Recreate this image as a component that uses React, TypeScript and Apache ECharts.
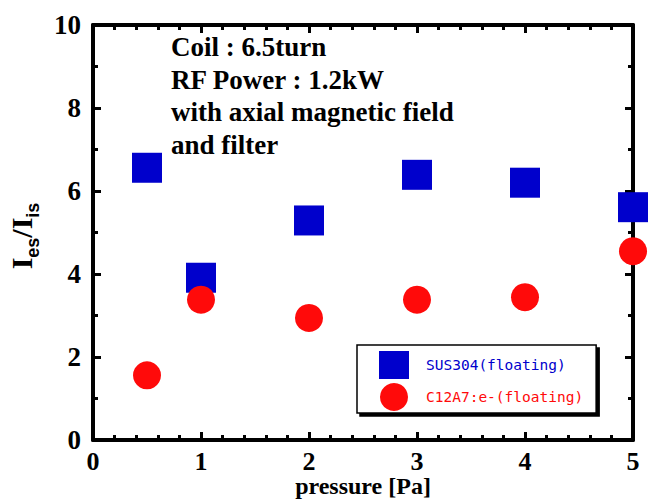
import React, { useEffect, useRef } from "react";
import * as echarts from "echarts";

const pressure = [0.5, 1, 2, 3, 4, 5];
const sus304 = [6.56, 3.91, 5.29, 6.39, 6.2, 5.61];
const c12a7 = [1.56, 3.38, 2.94, 3.38, 3.44, 4.55];
const seriesNames = ["SUS304(floating)", "C12A7:e-(floating)"];
const noteLines = ["Coil : 6.5turn", "RF Power : 1.2kW", "with axial magnetic field", "and filter"];

const BLUE = "#0000cc";
const RED = "#ff0a0a";
const SERIF = "'Liberation Serif', 'Times New Roman', serif";
const SANS = "'Liberation Sans', Arial, sans-serif";

export default function App() {
  const ref = useRef<HTMLDivElement>(null);
  useEffect(() => {
    const chart = echarts.init(ref.current!, undefined, { renderer: "svg" });
    const mkAxis = (split: number) => ({
      axisLine: { show: true, onZero: false, lineStyle: { color: "#000", width: 4 } },
      axisTick: { show: true, inside: false, length: -8, lineStyle: { color: "#000", width: 3 } },
      minorTick: { show: true, splitNumber: split, length: -5, lineStyle: { color: "#000", width: 3 } },
      splitLine: { show: false },
      minorSplitLine: { show: false },
    });
    const labelStyle = { fontFamily: SERIF, fontWeight: "bold" as const, fontSize: 27, color: "#000" };
    chart.setOption({
      animation: false,
      backgroundColor: "#fff",
      grid: { left: 93, right: 16, top: 25, bottom: 59, containLabel: false, outerBoundsMode: "none" },
      xAxis: [
        {
          type: "value", min: 0, max: 5, interval: 1, position: "bottom",
          ...mkAxis(5),
          axisLabel: { ...labelStyle, fontSize: 26, lineHeight: 24, margin: 9 },
          name: "pressure [Pa]", nameLocation: "middle", nameGap: 34, nameMoveOverlap: false,
          nameTextStyle: { fontFamily: SERIF, fontWeight: "bold", fontSize: 24, lineHeight: 24, color: "#000" },
        },
        {
          type: "value", min: 0, max: 5, interval: 1, position: "top",
          ...mkAxis(5),
          axisLabel: { show: false },
        },
      ],
      yAxis: [
        {
          type: "value", min: 0, max: 10, interval: 2, position: "left",
          ...mkAxis(2),
          axisLabel: { ...labelStyle, margin: 12 },
        },
        {
          type: "value", min: 0, max: 10, interval: 2, position: "right",
          ...mkAxis(2),
          axisLabel: { show: false },
        },
      ],
      legend: {
        orient: "vertical", left: 357, top: 345,
        padding: [6, 13, 2, 22], itemGap: 4, itemWidth: 30, itemHeight: 28,
        backgroundColor: "#fff", borderColor: "#000", borderWidth: 1.5,
        shadowColor: "#000", shadowOffsetX: 3, shadowOffsetY: 3, shadowBlur: 0,
        textStyle: { fontFamily: "'DejaVu Sans Mono', monospace", fontSize: 14.5, padding: [0, 0, 0, 12] },
        data: [
          { name: seriesNames[0], icon: "rect", textStyle: { color: BLUE } },
          { name: seriesNames[1], icon: "circle", textStyle: { color: RED } },
        ],
      },
      graphic: [
        {
          type: "text", left: 171, top: 31,
          style: {
            text: noteLines.join("\n"), fontFamily: SERIF, fontWeight: "bold", fontSize: 27,
            lineHeight: 32.5, fill: "#000",
          },
        },
        {
          type: "text", x: 24, y: 236, rotation: Math.PI / 2,
          style: {
            text: "{i|I}{s|es}{i|/I}{s|is}", align: "center", verticalAlign: "middle",
            rich: {
              i: { fontFamily: SERIF, fontWeight: "bold", fontSize: 30, fill: "#000", verticalAlign: "bottom", padding: [0, 0, 6, 0] },
              s: { fontFamily: SANS, fontWeight: "bold", fontSize: 18, fill: "#000", verticalAlign: "bottom" },
            },
          },
        },
      ],
      series: [
        {
          name: seriesNames[0], type: "scatter", symbol: "rect", symbolSize: 30, clip: false,
          itemStyle: { color: BLUE, opacity: 1 },
          data: pressure.map((p, i) => [p, sus304[i]]),
        },
        {
          name: seriesNames[1], type: "scatter", symbol: "circle", symbolSize: 28, clip: false,
          itemStyle: { color: RED, opacity: 1 },
          data: pressure.map((p, i) => [p, c12a7[i]]),
        },
      ],
    });
    return () => chart.dispose();
  }, []);
  return <div ref={ref} style={{ width: 649, height: 499, position: "absolute", left: 0, top: 0 }} />;
}
